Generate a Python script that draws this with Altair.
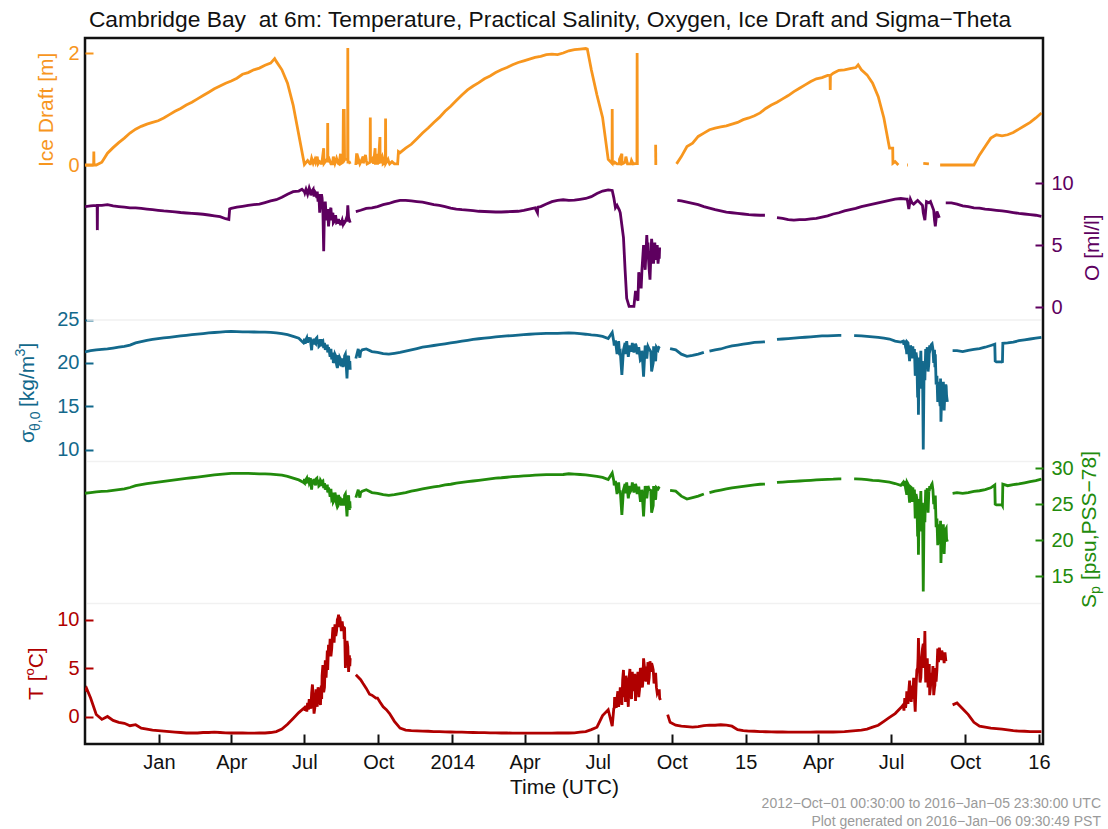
import altair as alt
import pandas as pd

# ---------------------------------------------------------------------------
# Cambridge Bay, 6 m: weekly readings from 2012-10-01 plus short-lived events
# ---------------------------------------------------------------------------
grid = pd.date_range("2012-10-01", periods=171, freq="7D")
N = None

ice_draft = [
    0.0, 0.0, 0.0, 0.05, 0.21, 0.31, 0.40, 0.48, 0.57, 0.64,
    0.69, 0.73, 0.76, 0.79, 0.84, 0.90, 0.96, 1.01, 1.07, 1.12,
    1.18, 1.24, 1.30, 1.36, 1.41, 1.46, 1.50, 1.55, 1.62, 1.65,
    1.70, 1.73, 1.78, 1.82, 1.85, 1.70, 1.46, 1.07, 0.54, 0.01,
    0.02, 0.05, 0.03, 0.10, 0.02, 0.03, 0.05, 0.05, N, 0.05,
    0.08, 0.10, 0.03, 0.10, 0.05, 0.02, 0.22, 0.30, 0.37, 0.47,
    0.57, 0.66, 0.76, 0.85, 0.96, 1.05, 1.15, 1.25, 1.34, 1.41,
    1.47, 1.54, 1.59, 1.65, 1.70, 1.74, 1.79, 1.83, 1.86, 1.89,
    1.92, 1.94, 1.97, 1.98, 1.97, 2.00, 2.04, 2.06, 2.07, 2.08,
    1.70, 1.25, 0.85, 0.10, 0.03, 0.02, 0.05, 0.02, 0.03, N,
    N, N, N, N, N, N, 0.15, 0.33, 0.39, 0.51,
    0.57, 0.63, 0.66, 0.68, 0.70, 0.73, 0.76, 0.81, 0.84, 0.88,
    0.93, 1.01, 1.07, 1.12, 1.18, 1.24, 1.31, 1.37, 1.43, 1.49,
    1.54, 1.56, 1.60, 1.64, 1.69, 1.70, 1.72, 1.74, 1.70, 1.61,
    1.46, 1.22, 0.84, 0.30, 0.06, N, N, N, N, 0.03,
    0.02, N, 0.0, 0.0, 0.0, 0.0, 0.0, 0.0, 0.0, 0.18,
    0.33, 0.48, 0.54, 0.52, 0.54, 0.58, 0.64, 0.70, 0.76, 0.84,
    0.93,
]

oxygen = [
    8.10, 8.15, 8.20, 8.20, 8.25, 8.15, 8.10, 8.05, 8.00, 8.00,
    7.95, 7.90, 7.85, 7.80, 7.75, 7.72, 7.68, 7.62, 7.58, 7.55,
    7.52, 7.48, 7.42, 7.35, 7.28, 7.12, 7.95, 8.05, 8.12, 8.20,
    8.25, 8.30, 8.42, 8.55, 8.65, 8.85, 9.10, 9.30, 9.35, 9.30,
    9.40, 9.20, 9.00, 7.00, 7.50, 6.90, 6.90, 7.00, N, 7.80,
    7.95, 8.00, 8.10, 8.25, 8.35, 8.50, 8.60, 8.60, 8.55, 8.50,
    8.45, 8.35, 8.25, 8.20, 8.10, 7.98, 7.90, 7.85, 7.82, 7.78,
    7.72, 7.70, 7.68, 7.66, 7.66, 7.68, 7.70, 7.72, 7.80, 7.90,
    8.00, 8.10, 8.30, 8.50, 8.60, 8.65, 8.60, 8.62, 8.68, 8.75,
    8.90, 9.15, 9.35, 9.45, 8.80, 7.80, 3.00, 0.05, 1.00, 3.00,
    4.50, 3.60, 4.20, N, N, N, 8.55, 8.45, 8.35, 8.25,
    8.10, 7.98, 7.85, 7.75, 7.65, 7.60, 7.55, 7.50, 7.45, 7.42,
    7.40, N, N, 7.20, 7.15, 7.05, 7.00, 7.05, 7.05, 7.10,
    7.15, 7.25, 7.35, 7.50, 7.60, 7.75, 7.85, 7.95, 8.10, 8.20,
    8.30, 8.40, 8.50, 8.60, 8.70, 8.75, 8.70, 8.40, 8.60, 7.60,
    8.40, 7.00, N, 8.40, 8.40, 8.30, 8.15, 8.10, 8.00, 7.98,
    7.90, 7.85, 7.80, 7.75, 7.70, 7.62, 7.55, 7.50, 7.45, 7.40,
    7.30,
]

sigma_theta = [
    21.25, 21.40, 21.50, 21.55, 21.60, 21.70, 21.80, 21.90, 22.05, 22.30,
    22.45, 22.60, 22.70, 22.80, 22.88, 22.95, 23.02, 23.10, 23.18, 23.25,
    23.32, 23.38, 23.45, 23.50, 23.55, 23.60, 23.62, 23.60, 23.58, 23.58,
    23.56, 23.55, 23.55, 23.52, 23.45, 23.38, 23.25, 23.05, 22.85, 22.50,
    22.80, 22.20, 22.60, 21.80, 20.80, 19.80, 20.20, 19.20, N, 21.30,
    21.60, 21.30, 21.20, 21.05, 21.00, 21.10, 21.20, 21.35, 21.50, 21.65,
    21.80, 21.90, 22.00, 22.10, 22.20, 22.30, 22.40, 22.50, 22.60, 22.70,
    22.78, 22.85, 22.92, 23.00, 23.05, 23.10, 23.15, 23.20, 23.25, 23.30,
    23.35, 23.38, 23.40, 23.40, 23.40, 23.42, 23.45, 23.42, 23.36, 23.30,
    23.22, 23.17, 23.05, 22.80, 22.40, 21.20, 22.30, 21.40, 21.90, 20.50,
    21.50, 20.00, 21.80, N, 21.65, 21.50, 21.00, 20.75, 20.85, 21.00,
    21.20, 21.35, 21.50, 21.60, 21.80, 21.95, 22.05, 22.15, 22.25, 22.35,
    22.40, N, N, 22.70, 22.75, 22.80, 22.85, 22.90, 22.95, 23.00,
    23.05, 23.10, 23.12, 23.15, 23.17, N, N, 23.15, 23.10, 23.05,
    23.00, 22.95, 22.85, 22.75, 22.50, 22.40, 21.50, 20.50, 16.00, 10.00,
    20.00, 21.50, 15.00, 17.50, N, 21.40, 21.30, 21.45, 21.55, 21.65,
    21.80, 22.00, 20.10, 20.10, 22.30, 22.40, 22.55, 22.65, 22.75, 22.85,
    22.95,
]

salinity = [
    26.50, 26.60, 26.70, 26.75, 26.80, 26.90, 27.00, 27.10, 27.30, 27.55,
    27.70, 27.85, 27.95, 28.05, 28.15, 28.25, 28.35, 28.45, 28.55, 28.65,
    28.75, 28.85, 28.95, 29.05, 29.12, 29.20, 29.25, 29.25, 29.25, 29.25,
    29.22, 29.20, 29.20, 29.15, 29.08, 29.00, 28.85, 28.60, 28.35, 27.90,
    28.30, 27.60, 28.10, 27.10, 25.90, 24.80, 25.30, 24.20, N, 26.60,
    27.00, 26.60, 26.50, 26.30, 26.20, 26.30, 26.45, 26.60, 26.80, 26.95,
    27.10, 27.25, 27.40, 27.50, 27.65, 27.75, 27.90, 28.00, 28.10, 28.20,
    28.30, 28.40, 28.50, 28.60, 28.65, 28.72, 28.80, 28.85, 28.90, 28.95,
    29.00, 29.05, 29.08, 29.08, 29.08, 29.10, 29.20, 29.15, 29.10, 29.05,
    28.95, 28.85, 28.70, 28.40, 28.20, 26.60, 27.80, 26.80, 27.40, 25.50,
    26.80, 24.80, 27.30, N, 26.90, 26.80, 26.10, 25.70, 25.90, 26.10,
    26.40, 26.60, 26.80, 26.95, 27.10, 27.25, 27.35, 27.45, 27.55, 27.65,
    27.75, N, N, 28.00, 28.05, 28.10, 28.15, 28.20, 28.25, 28.30,
    28.35, 28.40, 28.42, 28.45, 28.50, N, N, 28.50, 28.45, 28.40,
    28.30, 28.25, 28.15, 28.05, 27.85, 27.60, 26.60, 25.30, 20.50, 12.90,
    27.00, 26.00, 19.50, 21.50, N, 26.60, 26.50, 26.60, 26.75, 26.85,
    27.00, 27.25, 24.90, 24.90, 27.55, 27.70, 27.80, 27.95, 28.10, 28.25,
    28.45,
]

temperature = [
    2.60, 1.90, 0.20, -0.30, 0.00, -0.40, -0.60, -0.70, -0.95, -0.85,
    -1.20, -1.30, -1.40, -1.45, -1.50, -1.55, -1.60, -1.65, -1.70, -1.70,
    -1.70, -1.65, -1.65, -1.62, -1.65, -1.68, -1.70, -1.70, -1.70, -1.72,
    -1.72, -1.70, -1.70, -1.65, -1.55, -1.30, -0.80, -0.20, 0.40, 0.90,
    1.50, 2.20, 3.20, 5.80, 8.60, 10.20, 9.30, 6.30, N, 3.80,
    2.90, 2.20, 1.90, 1.00, 0.40, -0.50, -1.20, -1.40, -1.45, -1.48,
    -1.50, -1.52, -1.55, -1.56, -1.58, -1.60, -1.62, -1.62, -1.64, -1.65,
    -1.66, -1.67, -1.68, -1.69, -1.70, -1.70, -1.71, -1.72, -1.72, -1.72,
    -1.72, -1.72, -1.72, -1.72, -1.70, -1.70, -1.70, -1.68, -1.62, -1.55,
    -1.35, -1.10, 0.10, 0.70, 0.90, 2.30, 3.60, 2.50, 3.50, 3.20,
    5.00, 4.80, 2.60, N, -0.60, -0.90, -1.00, -1.05, -1.10, -1.05,
    -0.95, -0.90, -0.90, -0.85, -0.90, -1.00, -1.35, -1.45, -1.50, -1.52,
    -1.55, -1.57, -1.58, -1.60, -1.60, -1.62, -1.62, -1.62, -1.62, -1.62,
    -1.60, -1.60, -1.60, -1.60, -1.58, -1.55, -1.50, -1.45, -1.40, -1.30,
    -1.10, -0.90, -0.50, -0.10, 0.30, 0.90, 1.60, 2.80, 5.00, 7.50,
    4.00, 3.00, 6.50, 5.80, N, 1.40, 0.80, 0.20, -0.60, -1.00,
    -1.10, -1.20, -1.25, -1.30, -1.38, -1.45, -1.50, -1.52, -1.55, -1.55,
    -1.55,
]

# spikes, melt-season scatter and gap edges between the weekly readings
ice_events = [
    ("2012-10-11 18:00", 0.0), ("2012-10-12 00:00", 0.24), ("2012-10-12 06:00", 0.0),
    ("2013-05-25", 1.90),
    ("2013-07-05", 0.08), ("2013-07-08 12:00", 0.02), ("2013-07-10", 0.12),
    ("2013-07-12", 0.03), ("2013-07-14", 0.10),
    ("2013-07-17", 0.15), ("2013-07-18", 0.02), ("2013-07-20", 0.06),
    ("2013-07-22 12:00", 0.01),
    ("2013-07-25", 0.30), ("2013-07-25 12:00", 0.03),
    ("2013-07-29 18:00", 0.05), ("2013-07-30", 0.75), ("2013-07-30 06:00", 0.05),
    ("2013-08-01", 0.10), ("2013-08-03", 0.02), ("2013-08-06", 0.15),
    ("2013-08-08", 0.03), ("2013-08-10", 0.12), ("2013-08-13", 0.02),
    ("2013-08-15", 0.20), ("2013-08-16", 0.03),
    ("2013-08-18", 0.05), ("2013-08-18 12:00", 1.0), ("2013-08-19", 0.3),
    ("2013-08-19 12:00", 1.0), ("2013-08-20", 0.1),
    ("2013-08-23 18:00", 0.1), ("2013-08-24", 2.09), ("2013-08-24 06:00", 0.05),
    ("2013-08-27", 0.02), ("2013-09-03", 0.0),
    ("2013-09-04", 0.21), ("2013-09-04 06:00", 0.02),
    ("2013-09-06", 0.12), ("2013-09-08", 0.02),
    ("2013-09-12", 0.15), ("2013-09-12 06:00", 0.03),
    ("2013-09-15", 0.18), ("2013-09-17", 0.02),
    ("2013-09-20 18:00", 0.05), ("2013-09-21", 0.85), ("2013-09-21 06:00", 0.05),
    ("2013-09-24", 0.12), ("2013-09-25", 0.02),
    ("2013-09-27", 0.30), ("2013-09-27 06:00", 0.03),
    ("2013-09-30", 0.20), ("2013-10-01", 0.02),
    ("2013-10-03", 0.50), ("2013-10-03 06:00", 0.03),
    ("2013-10-06", 0.15), ("2013-10-07", 0.02),
    ("2013-10-09 18:00", 0.05), ("2013-10-10", 0.83), ("2013-10-10 06:00", 0.03),
    ("2013-10-13", 0.10), ("2013-10-15", 0.02), ("2013-10-18", 0.06),
    ("2013-10-25", 0.02), ("2013-10-26", 0.24),
    ("2014-06-18", 2.07),
    ("2014-07-18 18:00", 0.03), ("2014-07-19", 1.0), ("2014-07-19 06:00", 0.03),
    ("2014-07-22", 0.05), ("2014-07-25", 0.02), ("2014-07-28", 0.10),
    ("2014-07-31", 0.20), ("2014-07-31 06:00", 0.02),
    ("2014-08-02", 0.03), ("2014-08-05", 0.15), ("2014-08-07", 0.02),
    ("2014-08-12", 0.08), ("2014-08-14", 0.02),
    ("2014-08-18 18:00", 0.03), ("2014-08-19", 2.0), ("2014-08-19 06:00", 0.0),
    ("2014-09-11", 0.36), ("2014-09-11 06:00", 0.0),
    ("2014-10-07", 0.02),
    ("2015-04-16", 1.60), ("2015-04-16 06:00", 1.34), ("2015-04-16 12:00", 1.60),
    ("2015-05-21", 1.79),
    ("2015-07-03", 0.30), ("2015-07-03 06:00", 0.03), ("2015-07-10", 0.0),
    ("2015-07-21", 0.0), ("2015-07-22", 0.0),
]

oxygen_events = [
    ("2012-10-16 03:00", 8.2), ("2012-10-16 09:00", 6.2), ("2012-10-16 15:00", 8.2),
    ("2013-03-29", 7.05), ("2013-03-30", 7.90),
    ("2013-06-28", 9.5), ("2013-07-01 12:00", 9.2), ("2013-07-03", 9.5),
    ("2013-07-05", 9.1), ("2013-07-07", 9.6), ("2013-07-09", 9.0),
    ("2013-07-11", 9.4), ("2013-07-12", 9.5), ("2013-07-13", 8.9),
    ("2013-07-14", 9.3), ("2013-07-16 12:00", 8.8), ("2013-07-17", 9.3),
    ("2013-07-18", 8.5), ("2013-07-19", 9.1), ("2013-07-20", 7.6),
    ("2013-07-21", 8.4), ("2013-07-22 12:00", 9.0), ("2013-07-23", 8.8),
    ("2013-07-24", 7.8), ("2013-07-25", 4.5), ("2013-07-26", 8.0),
    ("2013-07-27", 8.5), ("2013-07-28", 7.4), ("2013-07-30", 7.9),
    ("2013-07-31", 6.5), ("2013-08-01", 7.2), ("2013-08-02", 7.8),
    ("2013-08-03", 8.0), ("2013-08-04", 7.0), ("2013-08-05 12:00", 7.6),
    ("2013-08-06", 6.8), ("2013-08-07", 6.9), ("2013-08-08", 7.3),
    ("2013-08-09", 7.3), ("2013-08-10", 6.8), ("2013-08-12 12:00", 7.1),
    ("2013-08-13", 6.7), ("2013-08-14", 7.0), ("2013-08-15", 6.6),
    ("2013-08-16", 6.8), ("2013-08-17", 7.0), ("2013-08-18", 6.7),
    ("2013-08-19 12:00", 7.0), ("2013-08-20", 6.8), ("2013-08-21", 6.9),
    ("2013-08-22", 7.1), ("2013-08-23", 6.9), ("2013-08-24", 8.2),
    ("2013-08-25", 7.2), ("2013-08-26 12:00", 6.9), ("2013-08-27", 6.8),
    ("2013-09-03", 7.7),
    ("2014-04-17", 7.6), ("2014-04-17 12:00", 8.05),
    ("2014-07-19", 9.4), ("2014-07-23", 8.0), ("2014-07-25", 8.2),
    ("2014-07-29", 7.6), ("2014-08-02", 5.6), ("2014-08-06", 0.7),
    ("2014-08-09", 0.05), ("2014-08-15", 0.05), ("2014-08-17", 1.3),
    ("2014-08-20", 0.5), ("2014-08-21", 2.8), ("2014-08-24", 1.5),
    ("2014-08-27", 5.0), ("2014-08-29", 3.0), ("2014-08-31", 5.8),
    ("2014-09-01 12:00", 5.2), ("2014-09-02", 4.0), ("2014-09-03", 3.0),
    ("2014-09-04", 2.2), ("2014-09-05", 4.0), ("2014-09-06", 5.5),
    ("2014-09-07", 4.8), ("2014-09-08 12:00", 3.6), ("2014-09-09", 4.0),
    ("2014-09-10", 5.2), ("2014-09-11", 3.8), ("2014-09-12", 4.5),
    ("2014-09-13", 5.0), ("2014-09-14", 3.5), ("2014-09-15 12:00", 3.9),
    ("2014-09-16", 4.8),
    ("2014-10-08", 8.6),
    ("2015-01-25", 7.4),
    ("2015-07-21", 8.7), ("2015-07-23", 7.9), ("2015-07-25", 8.7),
    ("2015-07-29", 8.3), ("2015-08-09", 8.2), ("2015-08-12", 7.0),
    ("2015-08-14", 8.5), ("2015-08-19", 8.5), ("2015-08-23", 7.8),
    ("2015-08-25", 6.5), ("2015-08-27", 7.7), ("2015-08-30", 7.2),
    ("2015-09-08", 8.4),
]

sigma_events = [
    ("2013-06-30", 22.3), ("2013-07-01", 22.8), ("2013-07-02", 22.2),
    ("2013-07-03", 22.7), ("2013-07-04", 22.9), ("2013-07-05", 22.3),
    ("2013-07-06", 22.95), ("2013-07-07", 22.4), ("2013-07-08 12:00", 22.9),
    ("2013-07-09", 22.2), ("2013-07-10", 21.45), ("2013-07-11", 22.7),
    ("2013-07-12", 22.1), ("2013-07-13", 22.8), ("2013-07-14", 22.3),
    ("2013-07-15 12:00", 22.8), ("2013-07-16 12:00", 22.9), ("2013-07-17", 22.2),
    ("2013-07-18", 22.7), ("2013-07-19", 21.9), ("2013-07-20", 22.0),
    ("2013-07-21", 22.6), ("2013-07-22 12:00", 21.9), ("2013-07-23", 22.4),
    ("2013-07-24", 22.5), ("2013-07-25", 21.7), ("2013-07-26", 22.3),
    ("2013-07-27", 21.5), ("2013-07-28", 21.8), ("2013-07-29 12:00", 22.1),
    ("2013-07-30", 21.2), ("2013-07-31", 21.8), ("2013-08-01", 21.3),
    ("2013-08-02", 20.7), ("2013-08-03", 21.6), ("2013-08-04", 20.4),
    ("2013-08-05 12:00", 21.2), ("2013-08-06", 20.0), ("2013-08-07", 20.2),
    ("2013-08-08", 21.0), ("2013-08-09", 20.8), ("2013-08-10", 19.8),
    ("2013-08-11", 19.4), ("2013-08-12 12:00", 20.9), ("2013-08-13", 19.7),
    ("2013-08-14", 20.6), ("2013-08-15", 20.4), ("2013-08-16", 19.6),
    ("2013-08-17", 20.5), ("2013-08-18", 19.5), ("2013-08-19 12:00", 19.6),
    ("2013-08-20", 20.8), ("2013-08-21", 21.0), ("2013-08-22", 19.8),
    ("2013-08-23", 18.2), ("2013-08-24", 20.6), ("2013-08-25", 20.8),
    ("2013-08-26 12:00", 20.2), ("2013-08-27", 19.2),
    ("2013-09-03", 20.5), ("2013-09-06", 21.6), ("2013-09-08", 20.6),
    ("2013-09-11", 21.5),
    ("2014-07-19", 23.5), ("2014-07-21 12:00", 22.0), ("2014-07-23", 22.6),
    ("2014-07-25", 21.0), ("2014-07-27", 22.5), ("2014-07-29", 21.3),
    ("2014-07-31", 18.6), ("2014-08-02", 21.5), ("2014-08-04", 21.0),
    ("2014-08-06", 22.5), ("2014-08-08", 20.7), ("2014-08-10", 22.0),
    ("2014-08-12", 21.4), ("2014-08-13", 22.3), ("2014-08-15", 21.2),
    ("2014-08-17", 22.2), ("2014-08-19", 21.0), ("2014-08-21", 21.8),
    ("2014-08-23", 20.3), ("2014-08-25", 21.4), ("2014-08-27", 18.4),
    ("2014-08-29", 22.0), ("2014-08-31", 20.5), ("2014-09-01 12:00", 21.9),
    ("2014-09-03", 21.6), ("2014-09-05", 21.3), ("2014-09-06", 19.0),
    ("2014-09-08 12:00", 21.9), ("2014-09-09", 20.8), ("2014-09-11", 20.2),
    ("2014-09-12", 21.8), ("2014-09-14", 21.5), ("2014-09-16", 21.9),
    ("2014-11-15", N),
    ("2015-01-25", 22.42), ("2015-04-30", 23.17), ("2015-05-16", 23.15),
    ("2015-07-16", 22.5), ("2015-07-17", 22.1), ("2015-07-18", 22.6),
    ("2015-07-19", 21.8), ("2015-07-20 12:00", 21.0), ("2015-07-21", 22.4),
    ("2015-07-22", 22.3), ("2015-07-23", 21.3), ("2015-07-24", 20.2),
    ("2015-07-25", 22.0), ("2015-07-26", 21.8), ("2015-07-27 12:00", 21.2),
    ("2015-07-28", 21.9), ("2015-07-29", 20.8), ("2015-07-30", 21.6),
    ("2015-07-31", 18.5), ("2015-08-01", 21.2), ("2015-08-02", 20.5),
    ("2015-08-03 12:00", 19.5), ("2015-08-04", 14.0), ("2015-08-05", 20.6),
    ("2015-08-06", 19.0), ("2015-08-07", 21.4), ("2015-08-08", 17.0),
    ("2015-08-09", 20.2), ("2015-08-11", 19.0), ("2015-08-12", 18.0),
    ("2015-08-13", 21.6), ("2015-08-14", 21.0), ("2015-08-15", 21.8),
    ("2015-08-16", 19.0), ("2015-08-17 12:00", 21.5), ("2015-08-18", 22.0),
    ("2015-08-19", 21.7), ("2015-08-20", 22.1), ("2015-08-21", 22.2),
    ("2015-08-22", 21.6), ("2015-08-23", 20.0), ("2015-08-24 12:00", 19.5),
    ("2015-08-25", 21.0), ("2015-08-26", 17.5), ("2015-08-27", 18.5),
    ("2015-08-28", 15.5), ("2015-08-29", 17.8), ("2015-08-30", 16.0),
    ("2015-08-31 12:00", 18.2), ("2015-09-01", 13.2), ("2015-09-02", 16.5),
    ("2015-09-03", 17.0), ("2015-09-04", 17.8), ("2015-09-05", 14.5),
    ("2015-09-06", 16.8), ("2015-09-07 12:00", 17.3), ("2015-09-08", 16.2),
    ("2015-09-09", 15.5),
    ("2015-09-15 12:00", 21.4),
    ("2015-11-07", 22.15), ("2015-11-07 12:00", 20.2),
    ("2015-11-16 12:00", 20.0), ("2015-11-17", 22.25),
]

salinity_events = [
    ("2013-06-30", 28.0), ("2013-07-01", 28.5), ("2013-07-02", 27.8),
    ("2013-07-03", 28.4), ("2013-07-04", 28.6), ("2013-07-05", 27.9),
    ("2013-07-06", 28.7), ("2013-07-07", 28.0), ("2013-07-08 12:00", 28.6),
    ("2013-07-09", 27.8), ("2013-07-10", 27.0), ("2013-07-11", 28.4),
    ("2013-07-12", 27.7), ("2013-07-13", 28.5), ("2013-07-14", 27.9),
    ("2013-07-15 12:00", 28.5), ("2013-07-16 12:00", 28.6), ("2013-07-17", 27.8),
    ("2013-07-18", 28.4), ("2013-07-19", 27.5), ("2013-07-20", 27.6),
    ("2013-07-21", 28.3), ("2013-07-22 12:00", 27.5), ("2013-07-23", 28.1),
    ("2013-07-24", 28.2), ("2013-07-25", 27.2), ("2013-07-26", 27.9),
    ("2013-07-27", 27.0), ("2013-07-28", 27.3), ("2013-07-29 12:00", 27.7),
    ("2013-07-30", 26.6), ("2013-07-31", 27.3), ("2013-08-01", 26.8),
    ("2013-08-02", 26.0), ("2013-08-03", 27.1), ("2013-08-04", 25.7),
    ("2013-08-05 12:00", 26.6), ("2013-08-06", 25.3), ("2013-08-07", 25.5),
    ("2013-08-08", 26.6), ("2013-08-09", 26.1), ("2013-08-10", 25.0),
    ("2013-08-11", 24.6), ("2013-08-12 12:00", 26.3), ("2013-08-13", 24.9),
    ("2013-08-14", 26.0), ("2013-08-15", 25.7), ("2013-08-16", 24.8),
    ("2013-08-17", 25.8), ("2013-08-18", 24.8), ("2013-08-19 12:00", 24.8),
    ("2013-08-20", 26.2), ("2013-08-21", 26.4), ("2013-08-22", 25.0),
    ("2013-08-23", 23.3), ("2013-08-24", 25.9), ("2013-08-25", 26.2),
    ("2013-08-26 12:00", 25.4), ("2013-08-27", 24.4),
    ("2013-09-03", 25.9), ("2013-09-06", 27.0), ("2013-09-08", 25.9),
    ("2013-09-11", 26.8),
    ("2014-07-19", 29.3), ("2014-07-21 12:00", 27.6), ("2014-07-23", 28.2),
    ("2014-07-25", 26.4), ("2014-07-27", 28.0), ("2014-07-29", 26.9),
    ("2014-07-31", 23.5), ("2014-08-02", 27.0), ("2014-08-04", 26.5),
    ("2014-08-06", 28.0), ("2014-08-08", 25.8), ("2014-08-10", 27.5),
    ("2014-08-12", 27.0), ("2014-08-13", 28.0), ("2014-08-15", 26.6),
    ("2014-08-17", 27.8), ("2014-08-19", 26.4), ("2014-08-21", 27.4),
    ("2014-08-23", 25.5), ("2014-08-25", 27.0), ("2014-08-27", 23.3),
    ("2014-08-29", 27.5), ("2014-08-31", 25.8), ("2014-09-01 12:00", 27.5),
    ("2014-09-03", 27.0), ("2014-09-05", 26.9), ("2014-09-06", 23.8),
    ("2014-09-08 12:00", 27.5), ("2014-09-09", 26.2), ("2014-09-11", 25.6),
    ("2014-09-12", 27.3), ("2014-09-14", 27.1), ("2014-09-16", 27.4),
    ("2014-11-15", N),
    ("2015-01-25", 27.78), ("2015-04-30", 28.5), ("2015-05-16", 28.5),
    ("2015-07-16", 28.0), ("2015-07-17", 27.5), ("2015-07-18", 28.2),
    ("2015-07-19", 27.2), ("2015-07-20 12:00", 26.3), ("2015-07-21", 28.0),
    ("2015-07-22", 27.8), ("2015-07-23", 26.6), ("2015-07-24", 25.2),
    ("2015-07-25", 27.4), ("2015-07-26", 27.3), ("2015-07-27 12:00", 26.4),
    ("2015-07-28", 27.3), ("2015-07-29", 26.0), ("2015-07-30", 27.0),
    ("2015-07-31", 23.0), ("2015-08-01", 26.4), ("2015-08-02", 25.8),
    ("2015-08-03 12:00", 24.3), ("2015-08-04", 18.0), ("2015-08-05", 25.7),
    ("2015-08-06", 23.8), ("2015-08-07", 26.8), ("2015-08-08", 21.2),
    ("2015-08-09", 25.2), ("2015-08-11", 23.6), ("2015-08-12", 22.5),
    ("2015-08-13", 27.0), ("2015-08-14", 26.3), ("2015-08-15", 27.2),
    ("2015-08-16", 23.8), ("2015-08-17 12:00", 26.8), ("2015-08-18", 27.5),
    ("2015-08-19", 27.1), ("2015-08-20", 27.6), ("2015-08-21", 27.8),
    ("2015-08-22", 27.0), ("2015-08-23", 25.0), ("2015-08-24 12:00", 24.3),
    ("2015-08-25", 26.2), ("2015-08-26", 21.8), ("2015-08-27", 23.0),
    ("2015-08-28", 19.3), ("2015-08-29", 22.2), ("2015-08-30", 20.0),
    ("2015-08-31 12:00", 22.7), ("2015-09-01", 16.85), ("2015-09-02", 20.5),
    ("2015-09-03", 21.2), ("2015-09-04", 22.2), ("2015-09-05", 18.1),
    ("2015-09-06", 21.0), ("2015-09-07 12:00", 21.6), ("2015-09-08", 20.2),
    ("2015-09-09", 19.8),
    ("2015-09-15 12:00", 26.5),
    ("2015-11-07", 27.65), ("2015-11-07 12:00", 25.0),
    ("2015-11-16 12:00", 24.8), ("2015-11-17", 27.75),
]

temperature_events = [
    ("2012-10-03", 2.9),
    ("2013-07-02", 0.6), ("2013-07-03", 1.1), ("2013-07-04", 0.5),
    ("2013-07-05", 1.4), ("2013-07-06", 0.7), ("2013-07-07", 1.8),
    ("2013-07-08 12:00", 1.0), ("2013-07-09", 0.8), ("2013-07-10", 2.4),
    ("2013-07-11", 3.3), ("2013-07-12", 1.9), ("2013-07-13", 0.3),
    ("2013-07-14", 0.9), ("2013-07-15 12:00", 2.8), ("2013-07-16 12:00", 1.7),
    ("2013-07-17", 1.0), ("2013-07-18", 3.0), ("2013-07-19", 2.6),
    ("2013-07-20", 1.6), ("2013-07-21", 1.2), ("2013-07-22 12:00", 1.8),
    ("2013-07-23", 4.2), ("2013-07-24", 5.3), ("2013-07-25", 2.5),
    ("2013-07-26", 3.0), ("2013-07-27", 5.8), ("2013-07-28", 4.0),
    ("2013-07-29 12:00", 6.8), ("2013-07-30", 4.8), ("2013-07-31", 7.4),
    ("2013-08-01", 6.2), ("2013-08-02", 8.0), ("2013-08-03", 6.2),
    ("2013-08-04", 7.0), ("2013-08-05 12:00", 9.2), ("2013-08-06", 9.1),
    ("2013-08-07", 7.6), ("2013-08-08", 9.5), ("2013-08-09", 8.3),
    ("2013-08-10", 8.8), ("2013-08-11", 10.0), ("2013-08-12 12:00", 10.5),
    ("2013-08-13", 9.2), ("2013-08-14", 10.3), ("2013-08-15", 9.6),
    ("2013-08-16", 8.8), ("2013-08-17", 9.8), ("2013-08-18", 9.0),
    ("2013-08-19 12:00", 8.0), ("2013-08-20", 9.2), ("2013-08-21", 5.0),
    ("2013-08-22", 6.2), ("2013-08-23", 7.8), ("2013-08-24", 7.2),
    ("2013-08-25", 4.6), ("2013-08-26 12:00", 5.2), ("2013-08-27", 6.0),
    ("2013-09-03", 4.3), ("2013-09-12", 3.4),
    ("2013-09-20", 2.3), ("2013-09-28", 1.9), ("2013-10-03", 1.5),
    ("2013-10-11", 0.7), ("2013-10-15", 0.3),
    ("2014-07-19", -1.0), ("2014-07-21 12:00", 0.8), ("2014-07-22", 2.0),
    ("2014-07-24", 0.9), ("2014-07-25", 1.9), ("2014-07-26", 2.6),
    ("2014-07-27", 1.0), ("2014-07-28", 1.4), ("2014-07-29", 3.0),
    ("2014-07-30", 2.2), ("2014-07-31", 1.2), ("2014-08-01", 3.8),
    ("2014-08-02", 4.8), ("2014-08-03", 2.0), ("2014-08-04 12:00", 1.5),
    ("2014-08-05", 4.2), ("2014-08-06", 3.6), ("2014-08-07", 2.4),
    ("2014-08-08", 1.0), ("2014-08-09", 4.0), ("2014-08-10", 4.9),
    ("2014-08-11", 2.6), ("2014-08-12", 1.8), ("2014-08-13", 4.6),
    ("2014-08-14", 2.6), ("2014-08-15", 4.0), ("2014-08-16", 4.4),
    ("2014-08-17", 1.6), ("2014-08-18 12:00", 2.8), ("2014-08-19", 3.8),
    ("2014-08-20", 4.6), ("2014-08-21", 2.0), ("2014-08-22", 2.8),
    ("2014-08-23", 5.0), ("2014-08-24", 4.8), ("2014-08-25 12:00", 3.0),
    ("2014-08-26", 3.4), ("2014-08-27", 6.0), ("2014-08-28", 5.2),
    ("2014-08-29", 4.0), ("2014-08-30", 3.6), ("2014-08-31", 5.0),
    ("2014-09-01 12:00", 5.6), ("2014-09-02", 3.3), ("2014-09-03", 4.0),
    ("2014-09-04", 5.7), ("2014-09-05", 4.6), ("2014-09-06", 5.5),
    ("2014-09-07", 5.2), ("2014-09-08 12:00", 4.2), ("2014-09-09", 3.4),
    ("2014-09-10", 3.9), ("2014-09-11", 4.5), ("2014-09-12", 3.0),
    ("2014-09-13", 2.4), ("2014-09-14", 2.6), ("2014-09-15 12:00", 2.8),
    ("2014-09-16", 1.9), ("2014-09-17", 1.7), ("2014-09-26", 0.2),
    ("2015-07-16", 1.2), ("2015-07-17", 0.6), ("2015-07-18", 1.9),
    ("2015-07-19", 0.9), ("2015-07-20 12:00", 2.6), ("2015-07-21", 1.8),
    ("2015-07-22", 1.3), ("2015-07-23", 2.6), ("2015-07-24", 3.7),
    ("2015-07-25", 2.2), ("2015-07-26", 1.5), ("2015-07-27 12:00", 3.2),
    ("2015-07-28", 1.8), ("2015-07-29", 4.0), ("2015-07-30", 2.0),
    ("2015-07-31", 0.5), ("2015-08-01", 3.0), ("2015-08-02", 4.8),
    ("2015-08-03 12:00", 6.0), ("2015-08-04", 8.1), ("2015-08-05", 5.2),
    ("2015-08-06", 3.5), ("2015-08-07", 4.0), ("2015-08-08", 6.0),
    ("2015-08-09", 7.0), ("2015-08-11", 5.0), ("2015-08-12", 8.8),
    ("2015-08-13", 3.5), ("2015-08-14", 5.2), ("2015-08-15", 6.0),
    ("2015-08-16", 3.0), ("2015-08-17 12:00", 5.4), ("2015-08-18", 2.2),
    ("2015-08-19", 3.0), ("2015-08-20", 4.5), ("2015-08-21", 3.6),
    ("2015-08-22", 5.2), ("2015-08-23", 2.2), ("2015-08-24 12:00", 3.2),
    ("2015-08-25", 5.0), ("2015-08-26", 3.6), ("2015-08-27", 4.8),
    ("2015-08-28", 7.0), ("2015-08-29", 5.6), ("2015-08-30", 7.1),
    ("2015-08-31 12:00", 6.6), ("2015-09-01", 5.8), ("2015-09-02", 6.8),
    ("2015-09-03", 6.5), ("2015-09-04", 6.2), ("2015-09-05", 5.5),
    ("2015-09-06", 6.6), ("2015-09-07 12:00", 5.7),
    ("2015-09-15 12:00", 1.2),
]

# time axis
x_start = "2012-10-01 00:30:00"
x_end = "2016-01-05 23:30:00"
tick_dates = ["2013-01-01", "2013-04-01", "2013-07-01", "2013-10-01",
              "2014-01-01", "2014-04-01", "2014-07-01", "2014-10-01",
              "2015-01-01", "2015-04-01", "2015-07-01", "2015-10-01",
              "2016-01-01"]
tick_labels = ["Jan", "Apr", "Jul", "Oct", "2014", "Apr", "Jul", "Oct",
               "15", "Apr", "Jul", "Oct", "16"]

FONT = "Liberation Sans"
W, H = 958, 706
NB = "\u00a0"


def ms(s):
    return int(pd.Timestamp(s, tz="UTC").value // 10**6)


def series_frame(values, events):
    """Merge weekly readings and events; a None starts a new line piece."""
    pts = [(pd.Timestamp(d), v) for d, v in zip(grid, values)]
    pts += [(pd.Timestamp(d), v) for d, v in events]
    pts.sort(key=lambda p: p[0])
    rows, piece, broken = [], 0, False
    for t, v in pts:
        if v is None:
            if not broken:
                piece += 1
            broken = True
            continue
        broken = False
        rows.append({"t": t.strftime("%Y-%m-%dT%H:%M:%SZ"), "v": v, "piece": piece})
    return pd.DataFrame(rows)


label_expr = "''"
for d, lab in zip(reversed(tick_dates), reversed(tick_labels)):
    label_expr = f"time(datum.value) == {ms(d)} ? '{lab}' : ({label_expr})"

x_enc = alt.X(
    "t:T",
    scale=alt.Scale(type="utc", domain=[ms(x_start), ms(x_end)]),
    axis=alt.Axis(
        values=[ms(d) for d in tick_dates], labelExpr=label_expr,
        orient="bottom", offset=-10, tickSize=10, tickWidth=2, tickColor="#111",
        labelFont=FONT, labelFontSize=20, labelColor="#111", labelPadding=8,
        labelFlush=False, labelOverlap=False, domain=False, grid=False,
        title="Time (UTC)", titleFont=FONT, titleFontSize=21,
        titleFontWeight="normal", titleColor="#111", titlePadding=4,
    ),
)

# (name, values, events, colour, axis side, tick values, value domain, pixel range)
panels = [
    ("ice", ice_draft, ice_events, "#F7961E", "left", [0, 1, 2], [0, 2], [127, 15]),
    ("oxy", oxygen, oxygen_events, "#5E005F", "right", [0, 5, 10], [0, 10], [269, 145]),
    ("sig", sigma_theta, sigma_events, "#13698C", "left", [10, 15, 20, 25], [10, 25], [411.5, 281.5]),
    ("sal", salinity, salinity_events, "#228B0C", "right", [15, 20, 25, 30], [15, 30], [538.3, 430]),
    ("tmp", temperature, temperature_events, "#B00000", "left", [0, 5, 10], [0, 10], [678.5, 581.5]),
]

layers = []
for name, vals, events, color, side, ticks, dom, rng in panels:
    df = series_frame(vals, events)
    layers.append(
        alt.Chart(df).mark_line(color=color, strokeWidth=2.8, clip=True).encode(
            x=x_enc,
            y=alt.Y("v:Q", scale=alt.Scale(domain=dom, range=rng, nice=False, zero=False),
                    axis=alt.Axis(orient=side, values=ticks, format="d", offset=-8,
                                  tickSize=8, tickWidth=2, tickColor=color,
                                  labelColor=color, labelFont=FONT, labelFontSize=20,
                                  labelPadding=6 if side == "left" else 8,
                                  domain=False, grid=False, title=None)),
            detail="piece:N",
        )
    )

# faint separators between the stacked panels
sep = pd.DataFrame({"yy": [282.0, 423.5, 565.5]})
layers.append(
    alt.Chart(sep).mark_rule(color="#f1f1f1", strokeWidth=1.5).encode(
        y=alt.Y("yy:Q", scale=alt.Scale(domain=[0, H], range=[0, H]), axis=None),
        x=alt.value(2), x2=alt.value(W - 2),
    )
)


def label(parts):
    """Rotated axis-title fragments: (text, x, y, size, colour)."""
    df = pd.DataFrame(parts, columns=["s", "x", "y", "size", "c"])
    return alt.Chart(df).mark_text(angle=270, align="left", baseline="alphabetic",
                                   font=FONT).encode(
        text="s:N", x=alt.X("x:Q", scale=None), y=alt.Y("y:Q", scale=None),
        size=alt.Size("size:Q", scale=None), color=alt.Color("c:N", scale=None),
    )


orange, purple, blue, green, red = (p[3] for p in panels)
layers.append(label([
    ("Ice Draft [m]", -32, 129, 21, orange),
    ("O [ml/l]", 1014, 243, 21, purple),
    ("\u03c3", -51, 405, 21, blue),
    ("\u03b8,0", -45, 393, 14, blue),
    ("[kg/m", -51, 369, 21, blue),
    ("3", -60, 318.5, 14, blue),
    ("]", -51, 310.5, 21, blue),
    ("S", 1010.5, 570, 21, green),
    ("p", 1015, 556, 14, green),
    ("[psu,PSS\u221278]", 1010.5, 542, 21, green),
    ("T" + NB + "[", -42, 662, 21, red),
    ("o", -51, 637.5, 13, red),
    ("C]", -42, 630.3, 21, red),
]))

foot = pd.DataFrame({
    "s": ["2012\u2212Oct\u221201 00:30:00 to 2016\u2212Jan\u221205 23:30:00 UTC",
          "Plot generated on 2016\u2212Jan\u221206 09:30:49 PST"],
    "x": [1016, 1016], "y": [770, 788],
})
layers.append(
    alt.Chart(foot).mark_text(align="right", baseline="alphabetic", font=FONT,
                              fontSize=14, color="#9a9a9a").encode(
        text="s:N", x=alt.X("x:Q", scale=None), y=alt.Y("y:Q", scale=None))
)

chart = alt.layer(*layers).resolve_scale(y="independent").properties(
    width=W, height=H,
    title=alt.TitleParams(
        "Cambridge Bay" + NB + " at 6m: Temperature, Practical Salinity, Oxygen, Ice Draft and Sigma\u2212Theta",
        font=FONT, fontSize=22.8, fontWeight="normal", color="#111",
        anchor="middle", dx=-14, offset=6),
    autosize=alt.AutoSizeParams(type="none"),
    padding={"left": 85, "top": 38, "right": 65, "bottom": 85},
).configure_view(stroke="#111", strokeWidth=2.5)

chart.save("out.html", embed_options={"renderer": "svg", "actions": False})
